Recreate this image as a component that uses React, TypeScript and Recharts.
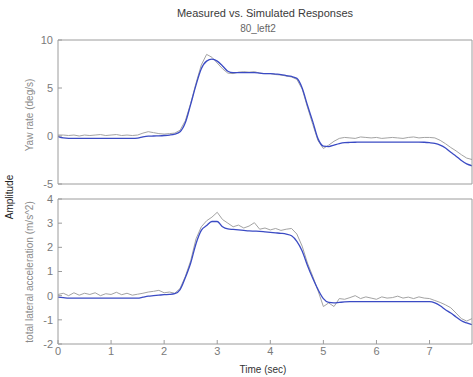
import React from "react";
import { LineChart, Line, XAxis, YAxis } from "recharts";

// time base (sec)
const time = [
  0, 0.1, 0.2, 0.3, 0.4, 0.5, 0.6, 0.7, 0.8, 0.9,
  1, 1.1, 1.2, 1.3, 1.4, 1.5, 1.6, 1.7, 1.8, 1.9,
  2, 2.1, 2.2, 2.3, 2.4, 2.5, 2.6, 2.7, 2.8, 2.9,
  3, 3.1, 3.2, 3.3, 3.4, 3.5, 3.6, 3.7, 3.8, 3.9,
  4, 4.1, 4.2, 4.3, 4.4, 4.5, 4.6, 4.7, 4.8, 4.9,
  5, 5.1, 5.2, 5.3, 5.4, 5.5, 5.6, 5.7, 5.8, 5.9,
  6, 6.1, 6.2, 6.3, 6.4, 6.5, 6.6, 6.7, 6.8, 6.9,
  7, 7.1, 7.2, 7.3, 7.4, 7.5, 7.6, 7.7, 7.8,
];

// yaw rate (deg/s)
const yawMeasured = [
  0.1, 0.1, 0.05, 0.1, 0.0, 0.1, 0.05, 0.1, 0.15, 0.05,
  0.1, 0.15, 0.05, 0.1, 0.05, 0.1, 0.3, 0.45, 0.35, 0.25,
  0.2, 0.25, 0.3, 0.6, 1.6, 3.4, 5.5, 7.4, 8.5, 8.2,
  7.6, 7.0, 6.55, 6.5, 6.65, 6.7, 6.65, 6.7, 6.55, 6.5,
  6.5, 6.4, 6.35, 6.25, 6.15, 5.9, 4.9, 3.0, 1.2, -0.5,
  -1.3, -0.95, -0.55, -0.25, -0.15, -0.2, -0.25, -0.1, -0.15, -0.2,
  -0.15, -0.25, -0.2, -0.15, -0.2, -0.25, -0.15, -0.1, -0.2, -0.15,
  -0.15, -0.2, -0.45, -0.8, -1.2, -1.55, -1.95, -2.3, -2.45,
];
const yawSimulated = [
  -0.05, -0.2, -0.25, -0.25, -0.25, -0.25, -0.25, -0.25, -0.25, -0.25,
  -0.25, -0.25, -0.25, -0.25, -0.25, -0.22, -0.1, -0.02, 0.0, 0.02,
  0.05, 0.1, 0.2, 0.45, 1.4, 3.3, 5.3, 7.0, 7.8, 8.0,
  7.8, 7.3, 6.75, 6.6, 6.6, 6.6, 6.6, 6.6, 6.55, 6.5,
  6.5, 6.45, 6.4, 6.3, 6.2, 6.0, 5.0, 3.2, 1.5, -0.3,
  -1.05, -1.1, -0.95, -0.8, -0.7, -0.67, -0.65, -0.63, -0.63, -0.63,
  -0.63, -0.63, -0.63, -0.63, -0.63, -0.63, -0.63, -0.63, -0.63, -0.65,
  -0.7, -0.78, -0.95, -1.25, -1.7, -2.1, -2.55, -2.9, -3.1,
];

// total lateral acceleration (m/s^2)
const accelMeasured = [
  0.05, 0.1, 0.0, 0.12, 0.02, 0.1, 0.05, 0.12, 0.0, 0.08,
  0.05, 0.14, 0.04, 0.1, 0.02, 0.06, 0.1, 0.15, 0.18, 0.22,
  0.12, 0.15, 0.1, 0.3, 0.8, 1.45, 2.35, 2.85, 3.1, 3.25,
  3.45, 3.15, 3.0, 2.85, 2.92, 2.8, 2.88, 3.02, 2.75, 2.8,
  2.72, 2.78, 2.7, 2.75, 2.78, 2.55, 2.05, 1.35, 0.8, 0.2,
  -0.45, -0.3, -0.45, -0.12, -0.15, -0.08, 0.0, -0.12, -0.05, -0.1,
  -0.15, -0.05, -0.1, -0.08, -0.02, -0.1, -0.06, -0.12, -0.05, -0.1,
  -0.12, -0.2, -0.28, -0.38, -0.5, -0.72, -0.95, -1.05, -0.95,
];
const accelSimulated = [
  -0.06, -0.08, -0.1, -0.1, -0.1, -0.1, -0.1, -0.1, -0.1, -0.1,
  -0.1, -0.1, -0.1, -0.1, -0.1, -0.1, -0.06, -0.02, 0.0, 0.02,
  0.04, 0.05, 0.08, 0.25, 0.75, 1.35, 2.15, 2.7, 2.9, 3.07,
  3.07, 2.85, 2.76, 2.74, 2.72, 2.7, 2.68, 2.67, 2.66, 2.64,
  2.62, 2.6, 2.58, 2.55, 2.48, 2.25, 1.85, 1.25, 0.72, 0.25,
  -0.12, -0.28, -0.3, -0.28, -0.26, -0.25, -0.25, -0.25, -0.25, -0.25,
  -0.25, -0.25, -0.25, -0.25, -0.25, -0.25, -0.25, -0.25, -0.25, -0.25,
  -0.25, -0.3, -0.42, -0.58, -0.72, -0.88, -1.04, -1.13, -1.2,
];

const xTicks = [0, 1, 2, 3, 4, 5, 6, 7];
const yawTicks = [-5, 0, 5, 10];
const accelTicks = [-2, -1, 0, 1, 2, 3, 4];

const yawData = time.map((t, i) => ({ t, measured: yawMeasured[i], simulated: yawSimulated[i] }));
const accelData = time.map((t, i) => ({ t, measured: accelMeasured[i], simulated: accelSimulated[i] }));

const FONT = "'Liberation Sans', Arial, sans-serif";
const FRAME = "#9c9c9c";
const tickText = { fontSize: 11, fill: "#7a7a7a", fontFamily: FONT };

type PanelProps = {
  data: { t: number; measured: number; simulated: number }[];
  height: number;
  margin: { top: number; right: number; bottom: number; left: number };
  yDomain: [number, number];
  yTicks: number[];
  showXLabels: boolean;
};

function Panel({ data, height, margin, yDomain, yTicks, showXLabels }: PanelProps) {
  return (
    <LineChart width={473} height={height} data={data} margin={margin}>
      <XAxis
        xAxisId="bottom"
        dataKey="t"
        type="number"
        domain={[0, 7.8]}
        ticks={xTicks}
        interval={0}
        allowDataOverflow
        stroke={FRAME}
        tickSize={-4}
        tickMargin={7}
        height={showXLabels ? 20 : 1}
        tick={showXLabels ? tickText : false}
      />
      {/* top edge of the box, ticks pointing in */}
      <XAxis
        xAxisId="top"
        orientation="top"
        dataKey="t"
        type="number"
        domain={[0, 7.8]}
        ticks={xTicks}
        interval={0}
        allowDataOverflow
        stroke={FRAME}
        tickSize={-4}
        height={1}
        tick={false}
      />
      <YAxis
        yAxisId="left"
        type="number"
        domain={yDomain}
        ticks={yTicks}
        interval={0}
        allowDataOverflow
        width={30}
        stroke={FRAME}
        tickSize={-4}
        tickMargin={9}
        tick={tickText}
      />
      {/* right edge of the box */}
      <YAxis
        yAxisId="right"
        orientation="right"
        type="number"
        domain={yDomain}
        ticks={yTicks}
        interval={0}
        allowDataOverflow
        width={1}
        stroke={FRAME}
        tickSize={-4}
        tick={false}
      />
      <Line
        xAxisId="bottom"
        yAxisId="left"
        dataKey="measured"
        type="linear"
        stroke="#a3a3a3"
        strokeWidth={1}
        dot={false}
        isAnimationActive={false}
      />
      <Line
        xAxisId="bottom"
        yAxisId="left"
        dataKey="simulated"
        type="monotone"
        stroke="#3b4bc4"
        strokeWidth={1.3}
        dot={false}
        isAnimationActive={false}
      />
      {/* invisible copy so the frame axes get a domain */}
      <Line
        xAxisId="top"
        yAxisId="right"
        dataKey="simulated"
        stroke="none"
        dot={false}
        legendType="none"
        isAnimationActive={false}
      />
    </LineChart>
  );
}

export default function App() {
  return (
    <div style={{ position: "absolute", left: 0, top: 0, width: 473, height: 377, background: "#fff" }}>
      <div style={{ position: "absolute", left: 0, top: 0 }}>
        <Panel
          data={yawData}
          height={190}
          margin={{ top: 39, right: 0, bottom: 5, left: 28 }}
          yDomain={[-5, 10]}
          yTicks={yawTicks}
          showXLabels={false}
        />
      </div>
      <div style={{ position: "absolute", left: 0, top: 190 }}>
        <Panel
          data={accelData}
          height={187}
          margin={{ top: 8, right: 0, bottom: 13, left: 28 }}
          yDomain={[-2, 4]}
          yTicks={accelTicks}
          showXLabels={true}
        />
      </div>
      <svg
        width={473}
        height={377}
        style={{ position: "absolute", left: 0, top: 0, pointerEvents: "none" }}
        fontFamily={FONT}
      >
        <text x={265} y={13} fontSize={11} fill="#3a3a3a" textAnchor="middle" dominantBaseline="central">
          Measured vs. Simulated Responses
        </text>
        <text x={258} y={28} fontSize={10} fill="#666" textAnchor="middle" dominantBaseline="central">
          80_left2
        </text>
        <text x={9} y={197} fontSize={10} fill="#222" textAnchor="middle" dominantBaseline="central" transform="rotate(-90 9 197)">
          Amplitude
        </text>
        <text x={29} y={115} fontSize={10} fill="#8a8a8a" textAnchor="middle" dominantBaseline="central" transform="rotate(-90 29 115)">
          Yaw rate (deg/s)
        </text>
        <text x={29} y={272} fontSize={10} fill="#8a8a8a" textAnchor="middle" dominantBaseline="central" transform="rotate(-90 29 272)">
          total lateral acceleration (m/s^2)
        </text>
        <text x={263} y={369} fontSize={10} fill="#333" textAnchor="middle" dominantBaseline="central">
          Time (sec)
        </text>
      </svg>
    </div>
  );
}
